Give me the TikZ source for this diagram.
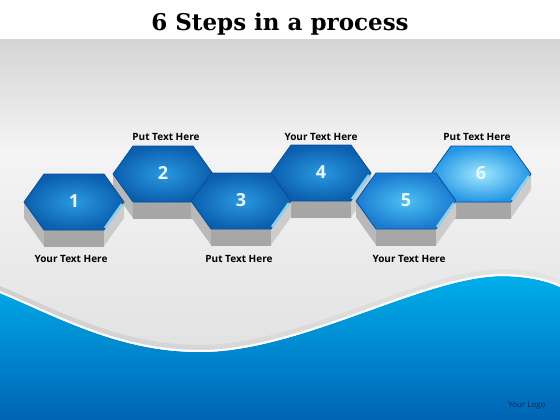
\documentclass[tikz,border=0pt]{standalone}
\usepackage{fontspec}
\setmainfont{Open Sans}
\newfontfamily\titlefont{DejaVu Serif}
\usetikzlibrary{positioning}

\definecolor{bandtop}{HTML}{D5D5D5}
\definecolor{bandmid}{HTML}{F4F4F4}
\definecolor{bandlow}{HTML}{DCDCDC}
\definecolor{wavetop}{HTML}{00AEEA}
\definecolor{wavebot}{HTML}{0064B4}
\definecolor{ribbonl}{HTML}{D0D0D0}
\definecolor{ribbonm}{HTML}{7CC8EC}
\definecolor{ribbonr}{HTML}{E4E4E4}
\definecolor{hexrim}{HTML}{0A4E98}
\definecolor{darkout}{HTML}{0B5FAE}
\definecolor{darkin}{HTML}{2A98E0}
\definecolor{midout}{HTML}{1A7AD0}
\definecolor{midin}{HTML}{4CC0F4}
\definecolor{lightout}{HTML}{2496E6}
\definecolor{lightin}{HTML}{A0E8FF}
\definecolor{bevelblue}{HTML}{86D2F6}
\definecolor{logoblue}{HTML}{0A2A50}

\tikzset{
  steptext/.style={font=\fontsize{10}{11}\selectfont\bfseries, text=black, inner sep=0pt, anchor=base},
  stepnum/.style={font=\fontsize{18}{20}\selectfont\bfseries, text=white!92!cyan, inner sep=0pt},
  sideleft/.style={fill=gray!55},
  sidefront/.style={top color=gray!85!black!60, bottom color=gray!70},
  sideright/.style={fill=gray!40},
}

\newcommand{\hexstep}[6]{%
  \coordinate (#1) at (#2,#3);
  \begin{scope}[shift={(#1)}]
    \fill[sideleft] (-50,0) -- (-30,28) -- (-30,44) -- (-50,16) -- cycle;
    \shade[sidefront] (-30,28) -- (30,28) -- (30,44) -- (-30,44) -- cycle;
    \fill[sideright] (30,28) -- (50,0) -- (50,16) -- (30,44) -- cycle;
    \shade[inner color=#6, outer color=#5, draw=hexrim, line width=0.8pt]
      (-50,0) -- (-30,-28) -- (30,-28) -- (50,0) -- (30,28) -- (-30,28) -- cycle;
    \draw[bevelblue, line width=2.5pt] (31,26) -- (48,2);
    \node[stepnum] (#1n) at (0,-1) {#4};
  \end{scope}}

\begin{document}
\begin{tikzpicture}[x=1pt, y=-1pt]
\useasboundingbox (0,0) rectangle (560,420);
\fill[white] (0,0) rectangle (560,40);
\shade[top color=bandtop, bottom color=bandmid] (0,40) rectangle (560,150);
\shade[top color=bandmid, bottom color=bandlow] (0,150) rectangle (560,420);

\node[font=\titlefont\fontsize{23}{25}\selectfont\bfseries, anchor=base] (title) at (280,31) {6 Steps in a process};

\shade[top color=wavetop, bottom color=wavebot]
  (0,293) .. controls (60,318) and (120,352) .. (200,352)
  .. controls (300,352) and (420,278) .. (500,276)
  .. controls (530,276) and (550,282) .. (560,287)
  -- (560,420) -- (0,420) -- cycle;
\shade[left color=ribbonl, middle color=ribbonm, right color=ribbonr]
  (0,286) .. controls (60,311) and (120,345) .. (200,345)
  .. controls (300,345) and (420,271) .. (500,269)
  .. controls (530,269) and (550,275) .. (560,280)
  -- (560,287) .. controls (550,282) and (530,276) .. (500,276)
  .. controls (420,278) and (300,352) .. (200,352)
  .. controls (120,352) and (60,318) .. (0,293) -- cycle;
\draw[white, line width=2pt]
  (0,292) .. controls (60,317) and (120,351) .. (200,351)
  .. controls (300,351) and (420,277) .. (500,275)
  .. controls (530,275) and (550,281) .. (560,286);

\hexstep{h2}{163}{174}{2}{darkout}{darkin}
\hexstep{h4}{321}{173}{4}{darkout}{darkin}
\hexstep{h6}{481}{174}{6}{lightout}{lightin}
\hexstep{h1}{74}{202}{1}{darkout}{darkin}
\hexstep{h3}{241}{201}{3}{darkout}{darkin}
\hexstep{h5}{406}{201}{5}{midout}{midin}

\node[steptext] (t2) at (166,140) {Put Text Here};
\node[steptext] (t4) at (321,140) {Your Text Here};
\node[steptext] (t6) at (477,140) {Put Text Here};
\node[steptext] (t1) at (71,262) {Your Text Here};
\node[steptext] (t3) at (239,262) {Put Text Here};
\node[steptext] (t5) at (409,262) {Your Text Here};

\node[font=\fontsize{8}{9}\selectfont, text=logoblue] (logo) at (527,406) {Your Logo};
\end{tikzpicture}
\end{document}
